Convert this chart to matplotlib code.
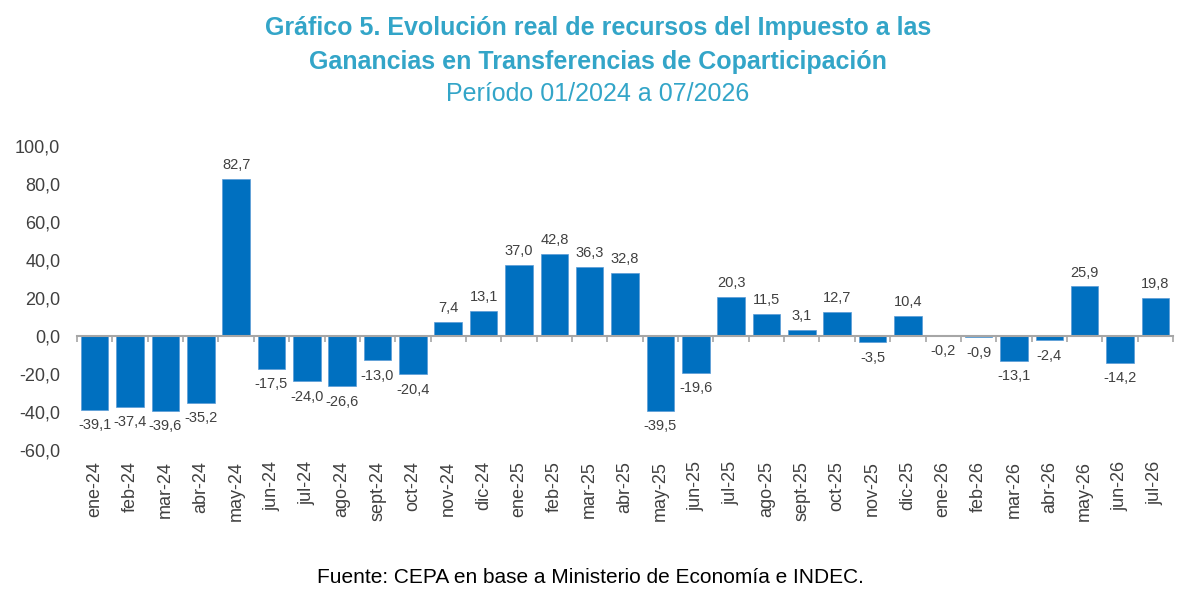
import numpy as np
import matplotlib.pyplot as plt
from matplotlib.ticker import FixedLocator, FuncFormatter

plt.rcParams['font.family'] = ['Liberation Sans', 'DejaVu Sans']

# Data
months = ['ene-24', 'feb-24', 'mar-24', 'abr-24', 'may-24', 'jun-24', 'jul-24', 'ago-24',
          'sept-24', 'oct-24', 'nov-24', 'dic-24', 'ene-25', 'feb-25', 'mar-25', 'abr-25',
          'may-25', 'jun-25', 'jul-25', 'ago-25', 'sept-25', 'oct-25', 'nov-25', 'dic-25',
          'ene-26', 'feb-26', 'mar-26', 'abr-26', 'may-26', 'jun-26', 'jul-26']
variation = [-39.1, -37.4, -39.6, -35.2, 82.7, -17.5, -24.0, -26.6, -13.0, -20.4, 7.4, 13.1,
             37.0, 42.8, 36.3, 32.8, -39.5, -19.6, 20.3, 11.5, 3.1, 12.7, -3.5, 10.4,
             -0.2, -0.9, -13.1, -2.4, 25.9, -14.2, 19.8]
y_ticks = [-60, -40, -20, 0, 20, 40, 60, 80, 100]

title_color = '#33A5C8'
bar_color = '#0070C0'
text_color = '#404040'

fig = plt.figure(figsize=(11.96, 6.16), dpi=100)
ax = fig.add_axes([0.0644, 0.270, 0.9164, 0.4935])

x = np.arange(len(months))
ax.bar(x, variation, width=0.78, color=bar_color, edgecolor='#5B9BD5',
       linewidth=0.5, zorder=2)

def fmt(v):
    return f'{v:.1f}'.replace('.', ',')

for xi, v in zip(x, variation):
    offset = 5 if v >= 0 else -6
    ax.annotate(fmt(v), (xi, v), xytext=(0, offset), textcoords='offset points',
                ha='center', va='bottom' if v >= 0 else 'top',
                fontsize=10.5, color=text_color)

ax.set_xlim(-0.5, len(months) - 0.5)
ax.set_ylim(-60, 100)
ax.set_yticks(y_ticks)
ax.yaxis.set_major_formatter(FuncFormatter(lambda v, p: fmt(v)))
ax.tick_params(axis='y', length=0, labelsize=13, colors=text_color, pad=12)

# zero line with small ticks between categories
for s in ['top', 'right', 'left']:
    ax.spines[s].set_visible(False)
ax.spines['bottom'].set_position(('data', 0))
ax.spines['bottom'].set_color('#A6A6A6')
ax.spines['bottom'].set_linewidth(1.5)
ax.spines['bottom'].set_zorder(3)
ax.xaxis.set_major_locator(FixedLocator(np.arange(-0.5, len(months), 1.0)))
ax.tick_params(axis='x', which='major', length=4, width=1.2, color='#A6A6A6',
               labelbottom=False)

# month labels at the bottom
sec = ax.secondary_xaxis(0.0)
sec.set_xticks(x)
sec.set_xticklabels(months, rotation=90)
sec.tick_params(length=0, labelsize=13, colors=text_color, pad=8)
sec.spines['bottom'].set_visible(False)

fig.text(0.5, 0.954, 'Gráfico 5. Evolución real de recursos del Impuesto a las',
         ha='center', va='center', fontsize=18, fontweight='bold', color=title_color)
fig.text(0.5, 0.900, 'Ganancias en Transferencias de Coparticipación',
         ha='center', va='center', fontsize=18, fontweight='bold', color=title_color)
fig.text(0.5, 0.847, 'Período 01/2024 a 07/2026',
         ha='center', va='center', fontsize=18, color=title_color)
fig.text(0.494, 0.062, 'Fuente: CEPA en base a Ministerio de Economía e INDEC.',
         ha='center', va='center', fontsize=15, color='black')

fig.savefig('out.png', dpi=100)
